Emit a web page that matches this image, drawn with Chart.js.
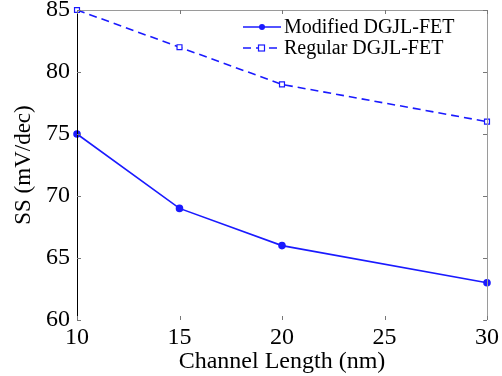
<!DOCTYPE html>
<html>
<head>
<meta charset="utf-8">
<script src="https://cdn.jsdelivr.net/npm/chart.js@4/dist/chart.umd.min.js"></script>
<style>
  html, body { margin: 0; padding: 0; background: #fff; }
  #wrap { width: 502px; height: 376px; }
</style>
</head>
<body>
<div id="wrap"><canvas id="ss-chart"></canvas></div>
<script>
// Channel length (nm) and subthreshold swing (mV/dec)
const channelLength = [10, 15, 20, 30];
const ssModified = [75, 69, 66, 63];
const ssRegular = [85, 82, 79, 76];
const xTicks = [10, 15, 20, 25, 30];
const yTicks = [60, 65, 70, 75, 80, 85];

const FONT = "'Liberation Serif', 'Times New Roman', serif";
const BLUE = '#1a1aff';

function toPoints(xs, ys) {
    return xs.map((x, i) => ({ x: x, y: ys[i] }));
}

// Draw frame, inside tick marks and the legend box
const framePlugin = {
    id: 'frame',
    afterDraw(chart) {
        const ctx = chart.ctx;
        const a = chart.chartArea;
        const xs = chart.scales.x;
        const ys = chart.scales.y;
        ctx.save();
        ctx.lineWidth = 1;
        // top and right border
        ctx.strokeStyle = '#9a9a9a';
        ctx.beginPath();
        ctx.moveTo(a.left, a.top + 0.5);
        ctx.lineTo(a.right + 0.5, a.top + 0.5);
        ctx.lineTo(a.right + 0.5, a.bottom);
        ctx.stroke();
        // left axis
        ctx.strokeStyle = '#000';
        ctx.beginPath();
        ctx.moveTo(a.left + 0.5, a.top);
        ctx.lineTo(a.left + 0.5, a.bottom);
        ctx.stroke();
        // inside ticks
        ctx.strokeStyle = '#777';
        xTicks.forEach(v => {
            const px = Math.round(xs.getPixelForValue(v)) + 0.5;
            ctx.beginPath();
            ctx.moveTo(px, a.bottom); ctx.lineTo(px, a.bottom - 4);
            ctx.moveTo(px, a.top); ctx.lineTo(px, a.top + 4);
            ctx.stroke();
        });
        yTicks.forEach(v => {
            const py = Math.round(ys.getPixelForValue(v)) + 0.5;
            ctx.beginPath();
            ctx.moveTo(a.left, py); ctx.lineTo(a.left + 4, py);
            ctx.moveTo(a.right, py); ctx.lineTo(a.right - 4, py);
            ctx.stroke();
        });

        // legend
        const rows = [
            { label: 'Modified DGJL-FET', ds: chart.data.datasets[0], y: 27 },
            { label: 'Regular DGJL-FET', ds: chart.data.datasets[1], y: 48 }
        ];
        ctx.font = '20px ' + FONT;
        ctx.textBaseline = 'middle';
        ctx.fillStyle = '#000';
        rows.forEach(r => {
            ctx.strokeStyle = r.ds.borderColor;
            ctx.lineWidth = 1.5;
            ctx.setLineDash(r.ds.borderDash || []);
            ctx.beginPath();
            ctx.moveTo(243, r.y);
            ctx.lineTo(281, r.y);
            ctx.stroke();
            ctx.setLineDash([]);
            ctx.lineWidth = 1.2;
            if (r.ds.pointStyle === 'rect') {
                ctx.fillStyle = '#fff';
                ctx.fillRect(258.5, r.y - 3, 6, 6);
                ctx.strokeRect(258.5, r.y - 3, 6, 6);
            } else {
                ctx.fillStyle = r.ds.borderColor;
                ctx.beginPath();
                ctx.arc(262, r.y, 3, 0, Math.PI * 2);
                ctx.fill();
            }
            ctx.fillStyle = '#000';
            ctx.fillText(r.label, 284, r.y + 1);
        });
        ctx.restore();
    }
};

new Chart(document.getElementById('ss-chart'), {
    type: 'line',
    data: {
        datasets: [
            {
                label: 'Modified DGJL-FET',
                data: toPoints(channelLength, ssModified),
                borderColor: BLUE,
                backgroundColor: BLUE,
                borderWidth: 1.6,
                pointStyle: 'circle',
                pointRadius: 3,
                tension: 0
            },
            {
                label: 'Regular DGJL-FET',
                data: toPoints(channelLength, ssRegular),
                borderColor: BLUE,
                backgroundColor: '#fff',
                borderWidth: 1.6,
                borderDash: [8, 5],
                pointStyle: 'rect',
                pointRadius: 3.5,
                pointBorderWidth: 1.2,
                tension: 0
            }
        ]
    },
    options: {
        responsive: true,
        maintainAspectRatio: false,
        animation: false,
        clip: false,
        layout: { padding: { top: 10, right: 15, left: 0, bottom: 0 } },
        plugins: {
            legend: { display: false },
            tooltip: { enabled: false }
        },
        scales: {
            x: {
                type: 'linear',
                min: 10,
                max: 30,
                afterBuildTicks: s => { s.ticks = xTicks.map(v => ({ value: v })); },
                afterFit: s => {
                    s.height = 56;
                    s.paddingLeft = 0;
                    s.paddingRight = 0;
                },
                border: { display: false },
                grid: { display: false, drawTicks: false },
                ticks: {
                    color: '#000',
                    font: { family: FONT, size: 24 },
                    padding: 3,
                    maxRotation: 0
                },
                title: {
                    display: true,
                    text: 'Channel Length (nm)',
                    color: '#000',
                    font: { family: FONT, size: 24 },
                    padding: { top: 0, bottom: 0 }
                }
            },
            y: {
                min: 60,
                max: 85,
                afterBuildTicks: s => { s.ticks = yTicks.map(v => ({ value: v })); },
                afterFit: s => {
                    s.width = 77;
                    s.paddingTop = 0;
                    s.paddingBottom = 0;
                },
                border: { display: false },
                grid: { display: false, drawTicks: false },
                ticks: {
                    color: '#000',
                    font: { family: FONT, size: 24 },
                    padding: 7
                },
                title: {
                    display: true,
                    text: 'SS (mV/dec)',
                    color: '#000',
                    font: { family: FONT, size: 23 },
                    padding: { top: 10, bottom: 0 }
                }
            }
        }
    },
    plugins: [framePlugin]
});
</script>
</body>
</html>
